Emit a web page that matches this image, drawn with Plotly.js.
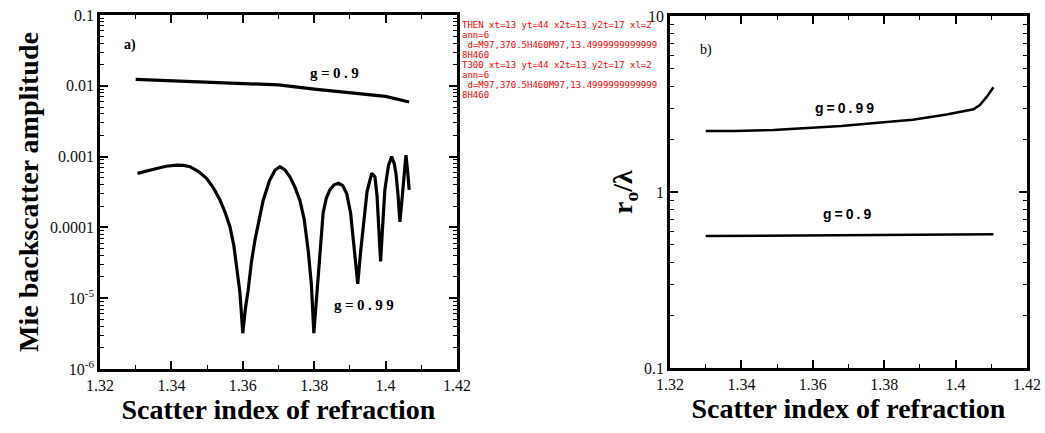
<!DOCTYPE html>
<html>
<head>
<meta charset="utf-8">
<script src="https://cdn.plot.ly/plotly-3.0.1.min.js"></script>
<style>html,body{margin:0;padding:0;background:#fff;}</style>
</head>
<body>
<div id="chart" style="width:1045px;height:433px;"></div>
<div id="diag" style="position:absolute;left:462px;top:20px;width:200px;font:9px monospace;color:red;white-space:pre-wrap;word-break:break-all;z-index:10"></div>
<script>
function log(s){ document.getElementById('diag').textContent += s + '\n'; }
window.onerror = function(m){ log('ERR ' + m); };
window.addEventListener('unhandledrejection', function(e){ log('REJ ' + (e.reason && (e.reason.stack||e.reason))); });

// ---- Panel a) Mie backscatter amplitude ----
const xA_g09 = [1.3300, 1.3400, 1.3500, 1.3600, 1.3700, 1.3800, 1.3900, 1.4000, 1.4066];
const yA_g09 = [0.0123, 0.0118, 0.0114, 0.0110, 0.0103, 0.0090, 0.0079, 0.0071, 0.0059];

const xA_g099 = [1.3305, 1.3330, 1.3359, 1.3385, 1.3415, 1.3435, 1.3452, 1.3475, 1.3499, 1.3518,
                 1.3536, 1.3550, 1.3564, 1.3575, 1.3583, 1.3592, 1.3600, 1.3607, 1.3615, 1.3624,
                 1.3634, 1.3645, 1.3657, 1.3675, 1.3690, 1.3704, 1.3718, 1.3732, 1.3746, 1.3760,
                 1.3772, 1.3783, 1.3792, 1.3799, 1.3805, 1.3811, 1.3818, 1.3825, 1.3834, 1.3844,
                 1.3856, 1.3868, 1.3880, 1.3891, 1.3902, 1.3910, 1.3916, 1.3922, 1.3930, 1.3938,
                 1.3948, 1.3961, 1.3970, 1.3976, 1.3980, 1.3986, 1.3992, 1.3998, 1.4008, 1.4017,
                 1.4024, 1.4029, 1.4035, 1.4040, 1.4045, 1.4050, 1.4057, 1.4062, 1.4066];
const yA_g099 = [5.8e-4, 6.3e-4, 6.8e-4, 7.3e-4, 7.6e-4, 7.5e-4, 7.2e-4, 6.2e-4, 4.9e-4, 3.6e-4,
                 2.44e-4, 1.65e-4, 1.02e-4, 5.5e-5, 2.8e-5, 1.2e-5, 3.2e-6, 7e-6, 1.3e-5, 3.2e-5,
                 6.6e-5, 1.3e-4, 2.4e-4, 4.6e-4, 6.4e-4, 7.2e-4, 6.5e-4, 5.2e-4, 3.7e-4, 2.4e-4,
                 1.3e-4, 4.8e-5, 1.6e-5, 3.2e-6, 8e-6, 2.2e-5, 7e-5, 1.6e-4, 2.6e-4, 3.4e-4,
                 4.0e-4, 4.2e-4, 3.9e-4, 3.0e-4, 1.6e-4, 6.6e-5, 3.2e-5, 1.6e-5, 4.5e-5, 1.15e-4,
                 3.2e-4, 5.8e-4, 5.2e-4, 2.8e-4, 1.15e-4, 3.3e-5, 1.1e-4, 3.4e-4, 7.5e-4, 1.0e-3,
                 8.0e-4, 5.8e-4, 2.8e-4, 1.2e-4, 2.2e-4, 4.2e-4, 1.05e-3, 6.0e-4, 3.4e-4];

// ---- Panel b) r_o / lambda ----
const xB_g099 = [1.3300, 1.3380, 1.3490, 1.3580, 1.3680, 1.3790, 1.3880, 1.3975, 1.4050, 1.4068, 1.4087, 1.4106];
const yB_g099 = [2.22, 2.22, 2.25, 2.30, 2.37, 2.48, 2.57, 2.76, 2.95, 3.12, 3.47, 3.94];
const xB_g09 = [1.3300, 1.3500, 1.3700, 1.3900, 1.4106];
const yB_g09 = [0.562, 0.565, 0.568, 0.571, 0.575];

// ---- Tick labels ----
const xTickVals = [1.32, 1.34, 1.36, 1.38, 1.40, 1.42];
const xTickText = ['1.32', '1.34', '1.36', '1.38', '1.4', '1.42'];
const yATickVals = [1e-6, 1e-5, 1e-4, 1e-3, 1e-2, 1e-1];
const yATickText = ['10<sup>-6</sup>', '10<sup>-5</sup>', '0.0001', '0.001', '0.01', '0.1'];
const yBTickVals = [0.1, 1, 10];
const yBTickText = ['0.1', '1', '10'];

function logMinors(d0, d1) {
  const out = [];
  for (let d = d0; d < d1; d++) for (let k = 2; k <= 9; k++) out.push(k * Math.pow(10, d));
  return out;
}

const W = 1045, H = 433;
const serif = 'Liberation Serif, Times New Roman, serif';
const sans = 'Liberation Sans, Arial, sans-serif';
function tickFont() { return {family: serif, size: 16, color: '#111'}; }
function titleFont() { return {family: serif, size: 28, color: '#000', weight: 'bold'}; }

const traces = [
  {x: xA_g09, y: yA_g09, mode: 'lines', line: {color: '#000', width: 3.2}},
  {x: xA_g099, y: yA_g099, mode: 'lines', line: {color: '#000', width: 3.2}},
  {x: xB_g099, y: yB_g099, xaxis: 'x2', yaxis: 'y2', mode: 'lines', line: {color: '#000', width: 2.5}},
  {x: xB_g09, y: yB_g09, xaxis: 'x2', yaxis: 'y2', mode: 'lines', line: {color: '#000', width: 2.5}}
];

function xAxis(domain, anchor) {
  return {
    domain: domain, anchor: anchor, range: [1.32, 1.42],
    tickvals: xTickVals.slice(), ticktext: xTickText.slice(), tickfont: tickFont(),
    ticks: 'inside', ticklen: 8, tickwidth: 2, tickcolor: '#000',
    minor: {dtick: 0.01, ticks: 'inside', ticklen: 4, tickwidth: 1, tickcolor: '#000'},
    showline: true, linewidth: 2.5, linecolor: '#000', mirror: 'ticks',
    showgrid: false, zeroline: false,
    title: {text: 'Scatter index of refraction', font: titleFont(), standoff: 4}
  };
}

function yAxis(domain, anchor, range, vals, text, minors, title) {
  return {
    domain: domain, anchor: anchor, type: 'log', range: range,
    tickvals: vals.slice(), ticktext: text.slice(), tickfont: tickFont(),
    ticks: 'inside', ticklen: 8, tickwidth: 2, tickcolor: '#000',
    minor: {tickvals: minors, ticks: 'inside', ticklen: 4, tickwidth: 1, tickcolor: '#000'},
    showline: true, linewidth: 2.5, linecolor: '#000', mirror: 'ticks',
    showgrid: false, zeroline: false,
    title: {text: title, font: titleFont(), standoff: 4}
  };
}

function label(xref, yref, x, y, text, family, size, spacing) {
  return {xref: xref, yref: yref, x: x, y: y, showarrow: false,
          text: '<b><span style="letter-spacing:' + spacing + 'px">' + text + '</span></b>',
          font: {family: family, size: size, color: '#000'}};
}

const layout = {
  width: W, height: H,
  margin: {l: 0, r: 0, t: 0, b: 0, pad: 0},
  showlegend: false,
  xaxis: xAxis([100 / W, 457 / W], 'y'),
  xaxis2: xAxis([670 / W, 1027 / W], 'y2'),
  yaxis: yAxis([1 - 369 / H, 1 - 15 / H], 'x', [-6, -1], yATickVals, yATickText, logMinors(-6, -1), 'Mie backscatter amplitude'),
  yaxis2: yAxis([1 - 368 / H, 1 - 16 / H], 'x2', [-1, 1], yBTickVals, yBTickText, logMinors(-1, 1), 'r<sub>o</sub>/λ'),
  annotations: [
    label('x', 'y', 1.3284, -1.424, 'a)', serif, 14, 0),
    label('x', 'y', 1.3862, -1.819, 'g=0.9', serif, 15, 3.5),
    label('x', 'y', 1.3945, -5.096, 'g=0.99', serif, 15, 3.5),
    {xref: 'x2', yref: 'y2', x: 1.3301, y: 0.807, text: 'b)', showarrow: false,
     font: {family: serif, size: 14, color: '#000'}},
    label('x2', 'y2', 1.3693, 0.477, 'g=0.99', sans, 14, 3),
    label('x2', 'y2', 1.3699, -0.125, 'g=0.9', sans, 14, 3)
  ]
};

function report(tag) {
  const q = s => document.querySelectorAll(s).length;
  log(tag + ' xt=' + q('path.xtick') + ' yt=' + q('path.ytick') + ' x2t=' + q('path.x2tick') + ' y2t=' + q('path.y2tick') + ' xl=' + q('path.xlines-above') + ' ann=' + q('g.annotation'));
  const xl = document.querySelector('path.xlines-above');
  if (xl) log(' d=' + (xl.getAttribute('d') || '').slice(0, 50));
}

try {
  Plotly.newPlot('chart', traces, layout, {displayModeBar: false})
    .then(function () { report('THEN'); })
    .catch(function (e) { log('CATCH ' + (e && (e.stack || e))); });
} catch (e) { log('SYNC ' + (e && (e.stack || e))); }
setTimeout(function () { report('T300'); }, 300);
</script>
</body>
</html>
